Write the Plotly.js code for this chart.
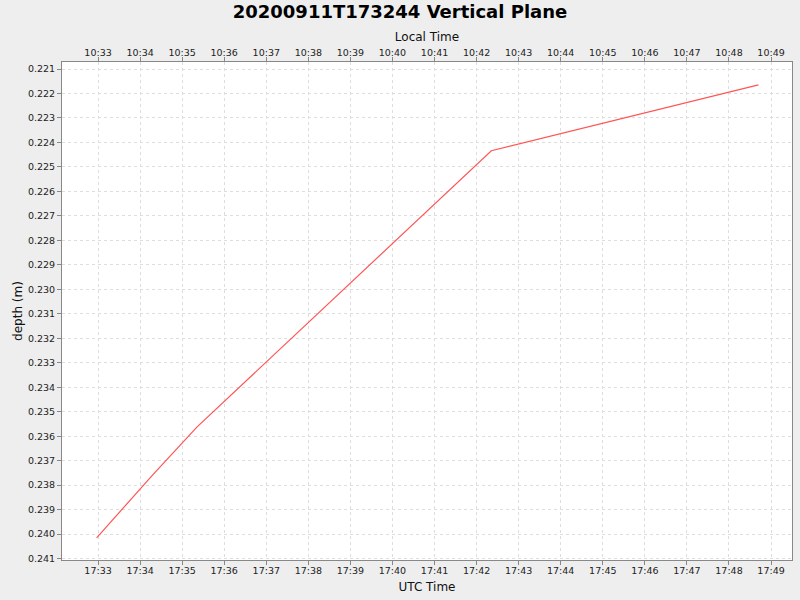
<!DOCTYPE html>
<html>
<head>
<meta charset="utf-8">
<script src="https://cdn.plot.ly/plotly-3.0.1.min.js"></script>
<style>
  html, body { margin: 0; padding: 0; background: #eeeeee; }
  #chart { width: 800px; height: 600px; }
</style>
</head>
<body>
<div id="chart"></div>
<script>
// readings off the profile (UTC time, depth in metres)
const utcTimes = [
    '2020-09-11 17:32:58',
    '2020-09-11 17:34:19',
    '2020-09-11 17:35:21',
    '2020-09-11 17:42:21',
    '2020-09-11 17:48:42'
];
const depths = [0.24015, 0.23755, 0.23563, 0.22434, 0.22165];

const utcRange = ['2020-09-11 17:32:08.6', '2020-09-11 17:49:29.9'];
const depthRange = [0.241057, 0.220714];
const localOffsetHours = -7;

// shift a 'YYYY-MM-DD HH:MM:SS' string by some hours (local time axis)
function shiftHours(s, hours) {
    const d = new Date(s.replace(' ', 'T') + 'Z');
    d.setTime(d.getTime() + hours * 3600 * 1000);
    return d.toISOString().replace('T', ' ').replace('Z', '');
}

function plotChart() {
    const tickFont = { family: 'DejaVu Sans', size: 9.5, color: '#222' };
    const titleFont = { family: 'DejaVu Sans', size: 12, color: '#111' };

    let depthTrace = {
        mode: 'lines',
        x: utcTimes,
        y: depths,
        xaxis: 'x',
        yaxis: 'y',
        line: { color: '#ff5555', width: 1.2 },
        hoverinfo: 'skip',
        showlegend: false
    };

    // invisible copy on the local time axis so the top axis gets drawn
    let localTrace = {
        mode: 'lines',
        x: utcTimes.map(t => shiftHours(t, localOffsetHours)),
        y: depths,
        xaxis: 'x2',
        yaxis: 'y',
        line: { color: 'rgba(0,0,0,0)', width: 0 },
        hoverinfo: 'skip',
        showlegend: false
    };

    const layout = {
        width: 800,
        height: 600,
        paper_bgcolor: '#eeeeee',
        plot_bgcolor: '#ffffff',
        margin: { l: 62, r: 8, t: 62, b: 40, pad: 0 },
        title: {
            text: '<b>20200911T173244 Vertical Plane</b>',
            font: { family: 'DejaVu Sans', size: 18, color: '#000' },
            x: 0.5,
            xanchor: 'center',
            y: 0.98,
            yref: 'container',
            yanchor: 'middle'
        },
        xaxis: {
            type: 'date',
            range: utcRange,
            dtick: 60000,
            tick0: '2020-09-11 17:33:00',
            tickformat: '%H:%M',
            ticks: 'outside',
            ticklen: 4,
            tickcolor: '#888',
            tickfont: tickFont,
            ticklabelstandoff: -2,
            showline: true,
            linecolor: '#888',
            linewidth: 1,
            mirror: true,
            showgrid: true,
            gridcolor: '#dddddd',
            griddash: '3px,3px',
            zeroline: false,
            title: { text: 'UTC Time', font: titleFont, standoff: 7 }
        },
        xaxis2: {
            type: 'date',
            overlaying: 'x',
            side: 'top',
            anchor: 'y',
            range: utcRange.map(t => shiftHours(t, localOffsetHours)),
            dtick: 60000,
            tick0: '2020-09-11 10:33:00',
            tickformat: '%H:%M',
            ticks: 'outside',
            ticklen: 4,
            tickcolor: '#888',
            tickfont: tickFont,
            ticklabelstandoff: -3,
            showline: true,
            linecolor: '#888',
            showgrid: false,
            zeroline: false,
            title: { text: 'Local Time', font: titleFont, standoff: 3 }
        },
        yaxis: {
            range: depthRange,
            dtick: 0.001,
            tick0: 0.221,
            tickformat: '.3f',
            ticks: 'outside',
            ticklen: 4,
            tickcolor: '#888',
            tickfont: tickFont,
            showline: true,
            linecolor: '#888',
            mirror: true,
            showgrid: true,
            gridcolor: '#dddddd',
            griddash: '3px,3px',
            zeroline: false,
            title: { text: 'depth (m)', font: titleFont, standoff: 2 }
        }
    };

    Plotly.newPlot('chart', [depthTrace, localTrace], layout, { staticPlot: true });
}

plotChart();
</script>
</body>
</html>
